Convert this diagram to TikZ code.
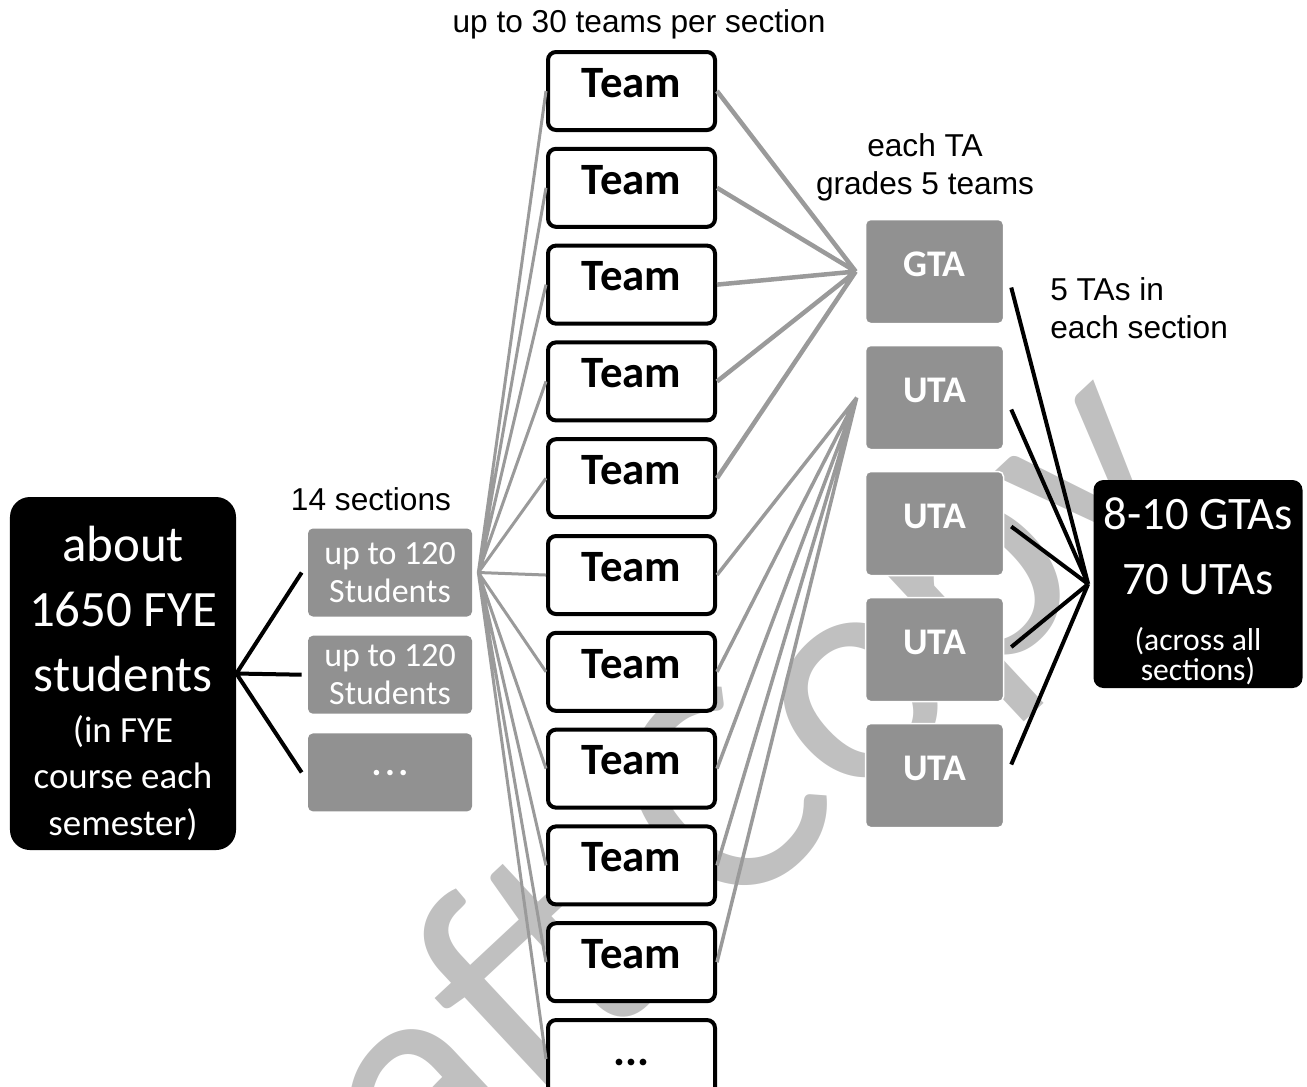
\documentclass[tikz,border=0pt]{standalone}
\usepackage{fontspec}
\setmainfont{Carlito}
\newfontfamily\arialfont{Liberation Sans}
\usetikzlibrary{positioning}
\definecolor{boxgrey}{HTML}{919191}
\definecolor{linegrey}{HTML}{9A9A9A}
\definecolor{wmgrey}{HTML}{C0C0C0}
\newcommand{\fyesm}{\fontsize{21}{26}\selectfont}
\newcommand{\rsm}{\fontsize{18}{16}\selectfont}
\tikzset{
  bigbox/.style={fill=black, text=white, rounded corners=4mm, inner sep=0pt, align=center},
  secbox/.style={fill=boxgrey, text=white, rounded corners=1mm, inner sep=0pt, align=center,
                 minimum width=32.8mm, minimum height=15.6mm, font=\fontsize{19.3}{21.6}\selectfont},
  teambox/.style={draw=black, line width=0.8mm, fill=white, rounded corners=1.6mm, inner sep=0pt,
                  minimum width=33.4mm, minimum height=15.6mm, text height=5.7mm, text depth=3.2mm,
                  font=\fontsize{25.5}{30}\selectfont\bfseries},
  tabox/.style={fill=boxgrey, draw=white, line width=0.3mm, text=white, rounded corners=1mm,
                inner sep=0pt, minimum width=27.6mm, minimum height=20.8mm, text height=4.9mm,
                text depth=2.8mm, font=\fontsize{21.4}{26}\selectfont\bfseries},
  lbl/.style={font=\arialfont\fontsize{18}{21.6}\selectfont, inner sep=0pt, align=center},
  blk/.style={line width=0.8mm, black},
  gry/.style={line width=0.6mm, linegrey},
  wmark/.style={font=\fontsize{180}{180}\selectfont, text=wmgrey, rotate=43, anchor=base, inner sep=0pt},
}

\begin{document}
\begin{tikzpicture}[x=0.2mm, y=-0.2mm]
\useasboundingbox (0,0) rectangle (1307,1086);
\clip (0,0) rectangle (1307,1086);

% --- watermark ---
\node[wmark] (draft) at (702,952) {Draft Copy};

% --- students and sections ---
\node[bigbox, minimum width=45.2mm, minimum height=70.6mm, font=\fontsize{29}{37}\selectfont]
  (fye) at (123,673.5)
  {\rule{0pt}{31pt}about\\1650 FYE\\students\\[-8pt]\fyesm(in FYE\\[-10.5pt]\fyesm course each\\[-10.5pt]\fyesm semester)};
\node[secbox, minimum height=17.6mm] (sec1) at (390,572.5) {up to 120\\Students};
\node[secbox] (sec2) [below=3.7mm of sec1] {up to 120\\Students};
\node[secbox, font=\fontsize{21}{24}\selectfont\bfseries] (sec3) [below=3.8mm of sec2]
  {\raisebox{-1.2mm}{.\hspace{0.7mm}.\hspace{0.7mm}.}};
\node[lbl, above=3.4mm of sec1, xshift=-3.8mm] (seclbl) {14 sections};

% --- teams ---
\node[teambox] (t1) at (631.5,91) {Team};
\node[teambox] (t2)  [below=2.96mm of t1] {Team};
\node[teambox] (t3)  [below=2.96mm of t2] {Team};
\node[teambox] (t4)  [below=2.96mm of t3] {Team};
\node[teambox] (t5)  [below=2.96mm of t4] {Team};
\node[teambox] (t6)  [below=2.96mm of t5] {Team};
\node[teambox] (t7)  [below=2.96mm of t6] {Team};
\node[teambox] (t8)  [below=2.96mm of t7] {Team};
\node[teambox] (t9)  [below=2.96mm of t8] {Team};
\node[teambox] (t10) [below=2.96mm of t9] {Team};
\node[teambox] (t11) [below=2.96mm of t10] {...};
\node[lbl, above=2.2mm of t1, xshift=1.5mm] (teamlbl) {up to 30 teams per section};

% --- teaching assistants ---
\node[tabox] (gta) at (934.5,271.5) {GTA};
\node[tabox] (uta1) [below=4.1mm of gta]  {UTA};
\node[tabox] (uta2) [below=4.1mm of uta1] {UTA};
\node[tabox] (uta3) [below=4.1mm of uta2] {UTA};
\node[tabox] (uta4) [below=4.1mm of uta3] {UTA};
\node[lbl, above=3.4mm of gta, xshift=-1.9mm] (gradelbl) {each TA\\grades 5 teams};
\node[lbl, align=left, anchor=north west] (talbl) at (1050,277) {5 TAs in\\each section};

\node[bigbox, rounded corners=2mm, minimum width=41.8mm, minimum height=41.6mm,
      font=\fontsize{26.5}{37}\selectfont] (total) at (1198,584)
  {\rule{0pt}{26pt}8-10 GTAs\\70 UTAs\\[-5.2pt]\rsm(across all\\[-20pt]\rsm sections)};

% --- connectors ---
\draw[blk] (fye.east) -- ([xshift=-1.2mm]sec1.west)
           (fye.east) -- ([xshift=-1.2mm]sec2.west)
           (fye.east) -- ([xshift=-1.2mm]sec3.west);

\coordinate (sechub) at ([xshift=1.2mm]sec1.east);
\draw[gry] (sechub) -- (t1.west) (sechub) -- (t2.west) (sechub) -- (t3.west)
           (sechub) -- (t4.west) (sechub) -- (t5.west) (sechub) -- (t6.west)
           (sechub) -- (t7.west) (sechub) -- (t8.west) (sechub) -- (t9.west)
           (sechub) -- (t10.west) (sechub) -- (t11.west);

\coordinate (gtahub) at ([xshift=-1.8mm]gta.west);
\draw[gry, line width=0.9mm] (t1.east) -- (gtahub) (t2.east) -- (gtahub) (t3.east) -- (gtahub)
           (t4.east) -- (gtahub) (t5.east) -- (gtahub);

\coordinate (utahub) at ([xshift=-1.6mm]uta1.west);
\draw[gry, line width=0.7mm] (t6.east) -- (utahub) (t7.east) -- (utahub) (t8.east) -- (utahub)
           (t9.east) -- (utahub) (t10.east) -- (utahub);

\coordinate (tahub) at ([xshift=-1mm]total.west);
\draw[blk] ([xshift=1.4mm, yshift=-3.2mm]gta.east) -- (tahub)
           ([xshift=1.4mm, yshift=-2.4mm]uta1.east) -- (tahub)
           ([xshift=1.4mm, yshift=-0.6mm]uta2.east) -- (tahub)
           ([xshift=1.4mm, yshift=0.5mm]uta3.east) -- (tahub)
           ([xshift=1.4mm, yshift=2.2mm]uta4.east) -- (tahub);

\end{tikzpicture}
\end{document}
